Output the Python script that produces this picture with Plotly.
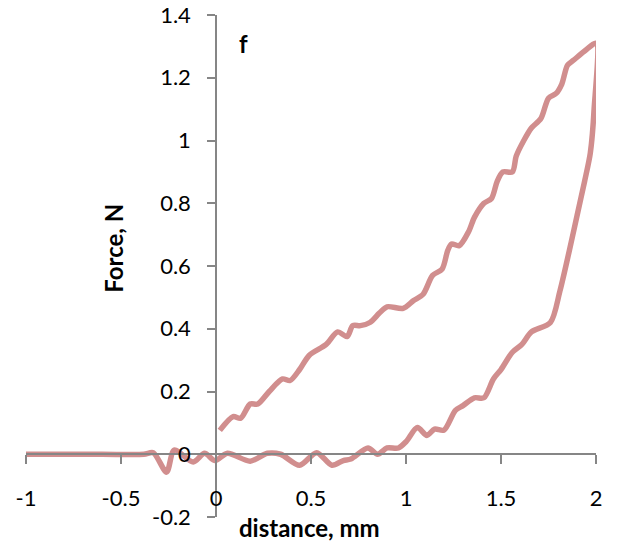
import plotly.graph_objects as go

# distance (mm) and force (N), traced as one continuous loop
distance = [-1.0, -0.6, -0.38, -0.33, -0.26, -0.22, -0.12, -0.06, -0.005, 0.06, 0.18, 0.27, 0.34,
            0.44, 0.53, 0.61, 0.67, 0.71, 0.8, 0.85, 0.9, 0.96, 1.0, 1.06, 1.11, 1.15, 1.2,
            1.26, 1.3, 1.36, 1.41, 1.46, 1.5, 1.56, 1.61, 1.66, 1.76, 1.81, 1.86, 1.9, 1.94,
            1.97, 1.99, 2.0,
            1.95, 1.88, 1.85, 1.82, 1.79, 1.75, 1.71, 1.66, 1.62, 1.58, 1.56, 1.51, 1.48,
            1.45, 1.41, 1.36, 1.33, 1.28, 1.24, 1.22, 1.19, 1.14, 1.09, 1.04, 0.985, 0.9,
            0.86, 0.81, 0.76, 0.72, 0.69, 0.64, 0.58, 0.49, 0.44, 0.39, 0.35, 0.28, 0.22,
            0.18, 0.13, 0.09, 0.02]
force = [0.0, 0.0, 0.0, 0.005, -0.057, 0.013, -0.025, 0.003, -0.02, 0.003, -0.022, 0.003, 0.0,
         -0.035, 0.005, -0.035, -0.02, -0.015, 0.02, 0.0, 0.02, 0.02, 0.04, 0.085, 0.06, 0.08, 0.077,
         0.14, 0.155, 0.18, 0.18, 0.24, 0.27, 0.325, 0.35, 0.39, 0.42, 0.52, 0.65, 0.76, 0.87,
         0.96, 1.1, 1.31,
         1.29, 1.255, 1.24, 1.18, 1.15, 1.135, 1.07, 1.04, 1.0, 0.95, 0.9, 0.9, 0.87,
         0.815, 0.8, 0.755, 0.71, 0.665, 0.67, 0.65, 0.59, 0.57, 0.51, 0.49, 0.465, 0.47,
         0.45, 0.42, 0.41, 0.41, 0.375, 0.39, 0.35, 0.315, 0.27, 0.235, 0.24, 0.2, 0.16,
         0.16, 0.115, 0.12, 0.076]

x_ticks = [-1, -0.5, 0, 0.5, 1, 1.5, 2]
x_labels = ["-1", "-0.5", "0", "0.5", "1", "1.5", "2"]
y_ticks = [-0.2, 0, 0.2, 0.4, 0.6, 0.8, 1.0, 1.2, 1.4]
y_labels = ["-0.2", "0", "0.2", "0.4", "0.6", "0.8", "1", "1.2", "1.4"]

FONT = "Lato, Calibri, sans-serif"
AXIS_COLOR = "#868686"

fig = go.Figure()
fig.add_trace(go.Scatter(
    x=distance, y=force, mode="lines",
    line=dict(color="#D18E8E", width=5.5, shape="spline", smoothing=0.8),
    showlegend=False, hoverinfo="skip"))

fig.update_layout(
    width=620, height=548,
    margin=dict(l=26, r=24, t=15, b=31, autoexpand=False),
    paper_bgcolor="white", plot_bgcolor="white",
    font=dict(family=FONT, size=22, color="black"),
    xaxis=dict(range=[-1, 2], anchor="free", position=0.125, automargin=False,
               showgrid=False, zeroline=False,
               showline=True, linecolor=AXIS_COLOR, linewidth=1.5,
               ticks="outside", ticklen=9, tickcolor=AXIS_COLOR, tickwidth=1.5,
               tickvals=x_ticks, ticktext=x_labels, ticklabelstandoff=16),
    yaxis=dict(range=[-0.2, 1.4], anchor="free", position=1/3, side="left", automargin=False,
               showgrid=False, zeroline=False,
               showline=True, linecolor=AXIS_COLOR, linewidth=1.5,
               ticks="outside", ticklen=8, tickcolor=AXIS_COLOR, tickwidth=1.5,
               tickvals=y_ticks, ticktext=y_labels, ticklabelstandoff=12),
    annotations=[
        dict(text="<b>f</b>", x=0.381, y=0.944, xref="paper", yref="paper",
             xanchor="center", yanchor="middle",
             showarrow=False, font=dict(size=24)),
        dict(text="<b>distance, mm</b>", x=0.498, y=-0.02, xref="paper", yref="paper",
             xanchor="center", yanchor="middle",
             showarrow=False, font=dict(size=24)),
        dict(text="<b>Force, N</b>", x=0.154, y=0.536, xref="paper", yref="paper",
             xanchor="center", yanchor="middle",
             showarrow=False, font=dict(size=24), textangle=-90),
    ],
)

fig.write_html("out.html")
